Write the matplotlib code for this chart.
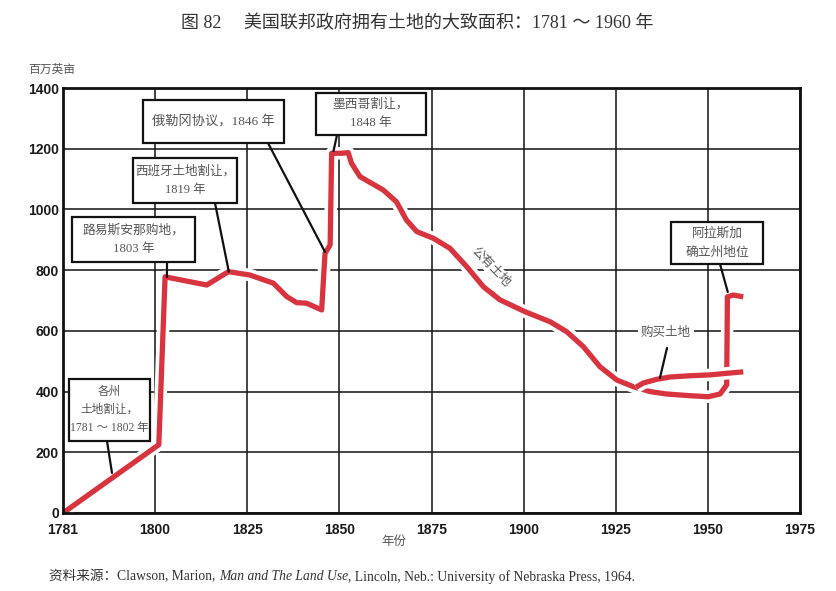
import numpy as np
import matplotlib
matplotlib.use("Agg")
import matplotlib.pyplot as plt
from matplotlib.patches import Rectangle
import matplotlib.patheffects as pe

# ---------------- data ----------------
# Total federally owned land (million acres)
total_years = [1781, 1801, 1802.7, 1814.0, 1819.9, 1825.7, 1832.1, 1835.7, 1838.4,
               1841.1, 1845.2, 1846.1, 1847.5, 1847.9, 1850.6, 1852.4, 1853.3,
               1855.6, 1861.9, 1865.5, 1868.2, 1871.0, 1875.5, 1880.0, 1884.6,
               1889.1, 1893.6, 1900.4, 1907.2, 1911.7, 1916.2, 1920.7, 1925.3,
               1929.8, 1934.3, 1938.8, 1945.6, 1950.1, 1953.3, 1955.1, 1955.3,
               1956.9, 1959.6]
total_values = [0, 225, 778, 751, 795, 784, 757, 713, 693,
                691, 669, 855, 883, 1185, 1185, 1187, 1152,
                1108, 1064, 1025, 965, 927, 905, 872, 811,
                745, 702, 663, 630, 597, 548, 482, 438,
                416, 400, 392, 386, 383, 392, 422, 712,
                718, 712]

# Public-domain line after acquisition of purchased land
purchased_years = [1930.5, 1932.4, 1936.0, 1939.7, 1945.0, 1950.6, 1955.0, 1959.6]
purchased_values = [414, 428, 440, 448, 452, 455, 460, 465]

x_ticks = [1781, 1800, 1825, 1850, 1875, 1900, 1925, 1950, 1975]
x_tick_labels = ["1781", "1800", "1825", "1850", "1875", "1900", "1925", "1950", "1975"]
y_ticks = [0, 200, 400, 600, 800, 1000, 1200, 1400]

title = "图 82　 美国联邦政府拥有土地的大致面积：1781 ～ 1960 年"
y_unit = "百万英亩"
x_label = "年份"

# ---------------- style ----------------
RED = "#d8343f"
TXT = "#555555"
MIX = ["Liberation Serif", "Noto Sans CJK SC"]
W, H = 836, 591

fig = plt.figure(figsize=(W / 100, H / 100), dpi=100)
fig.patch.set_facecolor("white")
ax = fig.add_axes([63 / W, 78 / H, 737 / W, 425 / H])


def fwd(x):
    x = np.asarray(x, dtype=float)
    return np.where(x < 1800, 1800 - (1800 - x) * 25 / 19, x)


def inv(y):
    y = np.asarray(y, dtype=float)
    return np.where(y < 1800, 1800 - (1800 - y) * 19 / 25, y)


ax.set_xscale("function", functions=(fwd, inv))
ax.set_xlim(1781, 1975)
ax.set_ylim(0, 1400)
ax.set_xticks(x_ticks)
ax.set_xticklabels(x_tick_labels)
ax.set_yticks(y_ticks)
ax.minorticks_off()
ax.set_axisbelow(True)
ax.grid(True, color="#1a1a1a", lw=1.15)
for s in ax.spines.values():
    s.set_linewidth(2.0)
    s.set_color("#111111")
ax.tick_params(length=0, labelsize=10, colors="#1a1a1a")
ax.tick_params(axis="x", pad=7)
ax.tick_params(axis="y", pad=3)
for lab in ax.get_xticklabels() + ax.get_yticklabels():
    lab.set_fontfamily("Liberation Sans")
    lab.set_fontweight("bold")

halo = [pe.Stroke(linewidth=9, foreground="white"), pe.Normal()]
ax.plot(total_years, total_values, color=RED, lw=3.8, solid_joinstyle="round",
        solid_capstyle="butt", zorder=2, path_effects=halo)
ax.plot(purchased_years, purchased_values, color=RED, lw=3.8, solid_joinstyle="round",
        solid_capstyle="butt", zorder=2, path_effects=halo)


def fx(px):
    return (px - 63) / 737


def fy(py):
    return (513 - py) / 425


def box(x0, y0, x1, y1, text, size=9.2):
    ax.add_patch(Rectangle((fx(x0), fy(y1)), fx(x1) - fx(x0), fy(y0) - fy(y1),
                           transform=ax.transAxes, facecolor="white",
                           edgecolor="#111111", lw=1.6, zorder=5, clip_on=False))
    ax.text((fx(x0) + fx(x1)) / 2, (fy(y0) + fy(y1)) / 2, text, transform=ax.transAxes,
            ha="center", va="center", fontsize=size, color=TXT, family=MIX,
            linespacing=1.7, zorder=6)


def leader(px, py, xd, yd):
    ax.annotate("", xy=(xd, yd), xycoords="data", xytext=(fx(px), fy(py)),
                textcoords="axes fraction",
                arrowprops=dict(arrowstyle="-", lw=1.6, color="#111111",
                                shrinkA=0, shrinkB=0), zorder=4)


# Annotations
box(72, 217, 195, 262, "路易斯安那购地，\n1803 年")
leader(167, 262, 1803.2, 777)
box(133, 158, 237, 203, "西班牙土地割让，\n1819 年", size=9.0)
leader(215, 203, 1820.0, 795)
box(143, 100, 284, 143, "俄勒冈协议，1846 年", size=9.5)
leader(268, 143, 1846.1, 860)
box(316, 93, 426, 135, "墨西哥割让，\n1848 年")
leader(337, 135, 1848.4, 1192)
box(69, 379, 150, 441, "各州\n土地割让，\n1781 ～ 1802 年", size=8.4)
leader(107, 441, 1791.1, 132)
box(671, 222, 763, 264, "阿拉斯加\n确立州地位")
leader(720, 264, 1955.4, 728)

ax.text(fx(666), fy(333), "购买土地", transform=ax.transAxes, ha="center", va="center",
        fontsize=9, color=TXT, family=MIX, zorder=6,
        bbox=dict(boxstyle="square,pad=0.25", facecolor="white", edgecolor="none"))
leader(667, 348, 1937.0, 445)
ax.text(fx(491), fy(267), "公有土地", transform=ax.transAxes, ha="center", va="center",
        fontsize=9, color=TXT, family=MIX, rotation=-46, zorder=6,
        bbox=dict(boxstyle="square,pad=0.1", facecolor="white", edgecolor="none"))

# Titles and labels
fig.text(417 / W, 1 - 23 / H, title, ha="center", va="center", fontsize=13,
         color="#333333", family=MIX)
fig.text(28 / W, 1 - 70 / H, y_unit, ha="left", va="center", fontsize=8.5,
         color=TXT, family=MIX)
fig.text(394 / W, 1 - 542 / H, x_label, ha="center", va="center", fontsize=9,
         color=TXT, family=MIX)

# Source line with italic book title
renderer = fig.canvas.get_renderer()
parts = [("资料来源：Clawson, Marion,", "normal"),
         ("Man and The Land Use", "italic"),
         (", Lincoln, Neb.: University of Nebraska Press, 1964.", "normal")]
gaps = [3.5, 0.0, 0.0]
xpos = 49
for (txt, style), gap in zip(parts, gaps):
    t = fig.text(xpos / W, 1 - 577 / H, txt, ha="left", va="center", fontsize=9.8,
                 color="#333333", family=MIX, style=style)
    bb = t.get_window_extent(renderer)
    xpos = bb.x1 + gap

fig.savefig("out.png", dpi=100, facecolor="white")
